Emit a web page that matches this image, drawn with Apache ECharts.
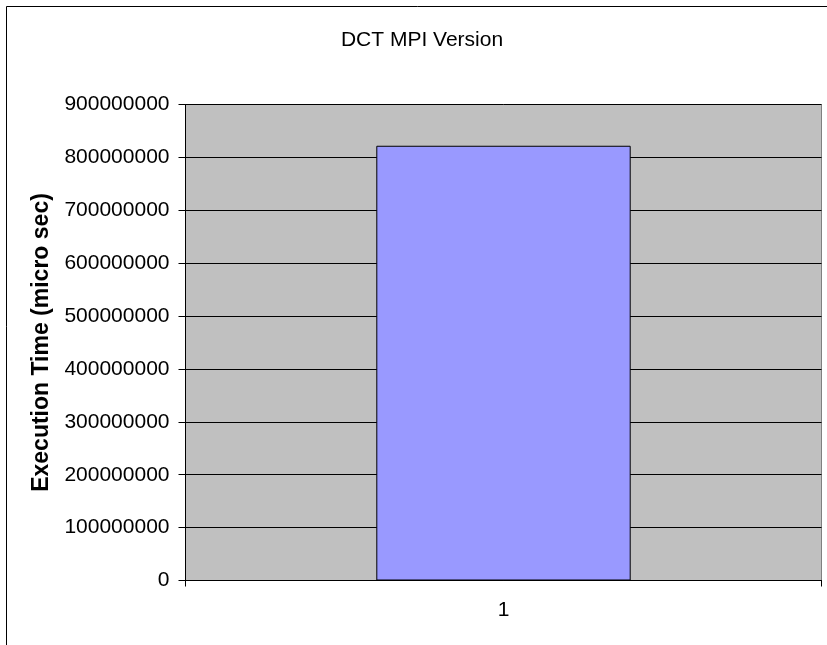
<!DOCTYPE html>
<html>
<head>
<meta charset="utf-8">
<script src="https://cdn.jsdelivr.net/npm/echarts@6/dist/echarts.min.js"></script>
<style>
  html, body { margin: 0; padding: 0; background: #fff; }
  #chart { width: 827px; height: 645px; }
</style>
</head>
<body>
<div id="chart"></div>
<script>
// Execution time of the DCT MPI run
const categories = ['1'];
const executionTime = [822000000];
const yMin = 0;
const yMax = 900000000;
const yStep = 100000000;

const font = '"Liberation Sans", Arial, sans-serif';
const chart = echarts.init(document.getElementById('chart'), null, { renderer: 'canvas' });

chart.setOption({
  animation: false,
  backgroundColor: '#ffffff',
  title: {
    text: 'DCT MPI Version',
    left: 417,
    top: 25,
    textAlign: 'center',
    textStyle: { fontFamily: font, fontSize: 21, fontWeight: 'normal', color: '#000' }
  },
  graphic: [{
    type: 'rect',
    shape: { x: 6.5, y: 6.5, width: 900, height: 700 },
    style: { fill: 'none', stroke: '#000', lineWidth: 1 },
    silent: true
  }],
  grid: {
    left: 185.5,
    top: 104.5,
    right: 5.5,
    bottom: 64.5,
    show: true,
    backgroundColor: '#c0c0c0',
    borderColor: '#808080',
    borderWidth: 1
  },
  xAxis: {
    type: 'category',
    data: categories,
    boundaryGap: true,
    axisLine: { show: true, lineStyle: { color: '#000', width: 1 } },
    axisTick: { show: true, length: 6, lineStyle: { color: '#000' } },
    axisLabel: { fontFamily: font, fontSize: 21, color: '#000', margin: 19 },
    splitLine: { show: false }
  },
  yAxis: {
    type: 'value',
    min: yMin,
    max: yMax,
    interval: yStep,
    name: 'Execution Time (micro sec)',
    nameLocation: 'middle',
    nameGap: 124,
    nameTextStyle: { fontFamily: font, fontSize: 23, fontWeight: 'bold', color: '#000' },
    axisLine: { show: true, lineStyle: { color: '#000', width: 1 } },
    axisTick: { show: true, length: 7, lineStyle: { color: '#000' } },
    axisLabel: {
      fontFamily: font, fontSize: 21, color: '#000', margin: 16,
      formatter: (v) => String(v)
    },
    splitLine: { show: true, lineStyle: { color: '#000', width: 1 } }
  },
  series: [{
    type: 'bar',
    data: executionTime,
    barWidth: '40%',
    itemStyle: { color: '#9999ff', borderColor: '#000', borderWidth: 1 }
  }]
});
</script>
</body>
</html>
